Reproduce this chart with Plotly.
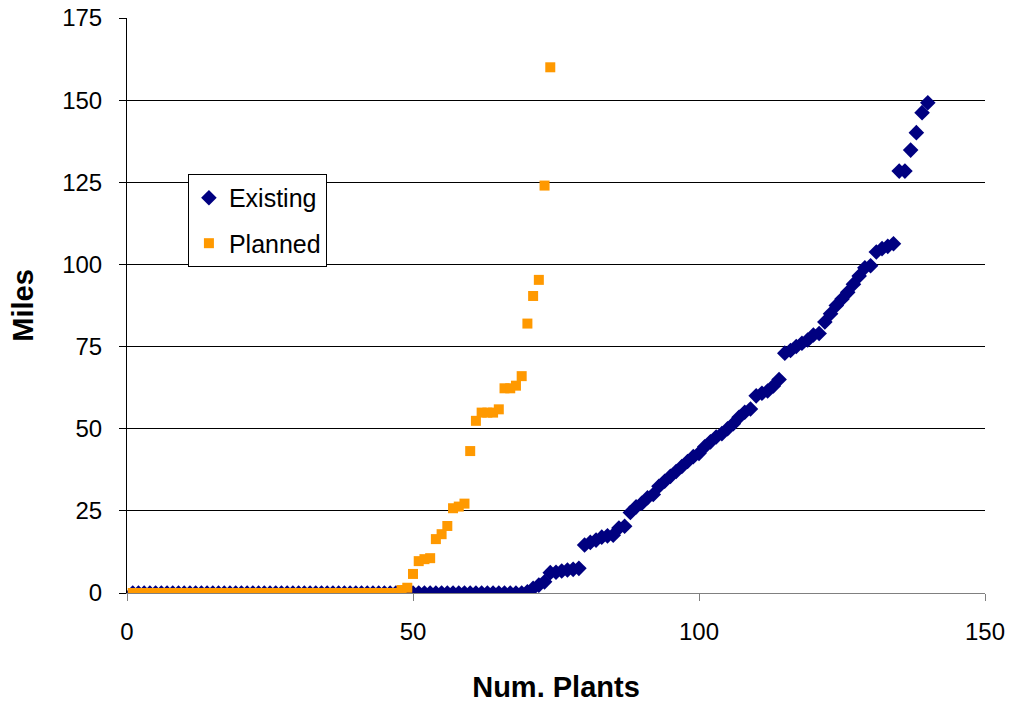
import plotly.graph_objects as go

# Existing plants: x = plant rank, y = miles
existing_x = list(range(1, 141))
existing_y = [0.0] * 69 + [
    0.4, 1.4, 2.4, 3.4, 6.2, 6.3, 6.7, 7.0, 7.2, 7.5,          # 70-79
    14.6, 15.4, 16.1, 17.0, 17.4, 17.6, 19.8, 20.3, 24.5, 26.2,  # 80-89
    27.3, 29.0, 30.0, 32.5, 34.0, 35.5, 37.0, 38.5, 40.0, 41.5,  # 90-99
    42.5, 44.5, 46.0, 47.5, 48.5, 50.0, 51.5, 53.5, 55.0, 56.0,  # 100-109
    60.0, 60.8, 61.5, 63.0, 65.0, 73.0, 73.8, 75.0, 76.0, 77.0,  # 110-119
    78.5, 79.0, 82.5, 85.0, 87.5, 89.5, 91.5, 94.0, 96.5, 99.0,  # 120-129
    99.6, 103.8, 104.8, 105.5, 106.3, 128.4, 128.4, 134.8, 140.1, 146.2,  # 130-139
    149.2,  # 140
]

# Planned plants
planned_x = list(range(1, 75))
planned_y = [0.0] * 47 + [
    0.9, 1.6, 5.8, 9.7, 10.3, 10.6, 16.4, 17.9, 20.4, 25.8,      # 48-57
    26.3, 27.2, 43.2, 52.4, 54.9, 54.9, 54.9, 55.9, 62.3, 62.3,  # 58-67
    63.1, 66.0, 82.0, 90.4, 95.3, 124.0, 160.0,                  # 68-74
]

x_ticks = [0, 50, 100, 150]
y_ticks = [0, 25, 50, 75, 100, 125, 150, 175]

fig = go.Figure()
fig.add_trace(go.Scatter(
    x=existing_x, y=existing_y, mode="markers", name="Existing",
    legendgroup="a",
    marker=dict(symbol="diamond", size=12, color="#000080"),
))
fig.add_trace(go.Scatter(
    x=planned_x, y=planned_y, mode="markers", name="Planned",
    legendgroup="b",
    marker=dict(symbol="square", size=10, color="#FF9900"),
))

font_family = "Liberation Sans, Arial, sans-serif"
fig.update_layout(
    width=1015, height=704,
    margin=dict(l=127, r=30, t=18, b=111, autoexpand=False),
    paper_bgcolor="white", plot_bgcolor="white",
    font=dict(family=font_family, size=24, color="black"),
    showlegend=True,
    legend=dict(
        x=0.071, y=0.7288, xanchor="left", yanchor="top",
        bgcolor="white", bordercolor="black", borderwidth=1,
        font=dict(size=25, family=font_family),
        traceorder="grouped", tracegroupgap=10,
    ),
    xaxis=dict(
        range=[0, 150], tickvals=x_ticks, ticks="outside", ticklen=7,
        tickcolor="#808080", showgrid=False, zeroline=False,
        showline=True, linecolor="#808080", linewidth=1,
        title=dict(text="<b>Num. Plants</b>", font=dict(size=29), standoff=32),
        tickfont=dict(size=24), ticklabelstandoff=10,
        ticklabeloverflow="allow", automargin=False,
    ),
    yaxis=dict(
        range=[0, 175], tickvals=y_ticks, ticks="outside", ticklen=7,
        tickcolor="black", showgrid=True, gridcolor="black", gridwidth=1,
        zeroline=False, showline=True, linecolor="black", linewidth=1,
        title=dict(text="<b>Miles</b>", font=dict(size=29), standoff=20),
        tickfont=dict(size=24), ticklabelstandoff=12,
        ticklabeloverflow="allow", automargin=False,
    ),
)

fig.write_html(
    "out.html",
    config={"displayModeBar": False},
    post_script="document.body.style.margin='0px';",
)
